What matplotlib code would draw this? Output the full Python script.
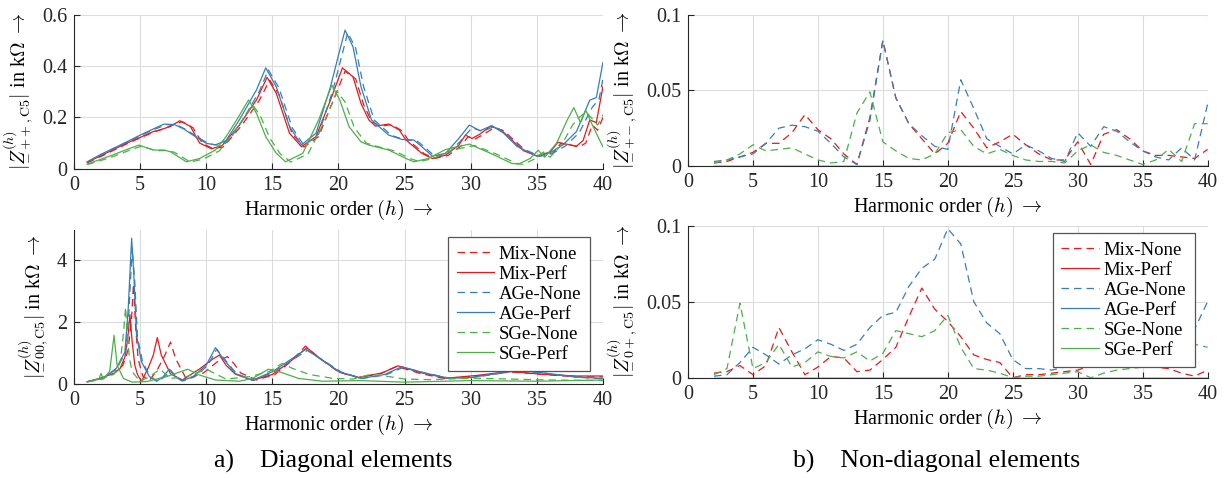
import numpy as np
import matplotlib
matplotlib.use("Agg")
import matplotlib.pyplot as plt

plt.rcParams['font.family'] = ['Liberation Serif', 'DejaVu Serif']
plt.rcParams['mathtext.fontset'] = 'cm'

labels = ['Mix-None', 'Mix-Perf', 'AGe-None', 'AGe-Perf', 'SGe-None', 'SGe-Perf']
colors = ['#e41a1c', '#e41a1c', '#377eb8', '#377eb8', '#4daf4a', '#4daf4a']
styles = ['--', '-', '--', '-', '--', '-']

# ---- diagonal ++ (top left)
h_mix_none_pp = [1, 2, 3, 4, 5, 6, 7, 7.6, 8.2, 9.0, 9.7, 10.5, 11.3, 12.7, 14, 14.8, 15.5, 16.5, 17.4, 18.5, 19.6, 20.5, 21.3, 21.9, 22.5, 23.1, 24.0, 24.8, 25.3, 26.5, 27.3, 28.3, 29.3, 29.8, 30.3, 30.9, 31.8, 32.5, 33.3, 34.2, 35.2, 36.2, 36.8, 37.5, 38.2, 38.7, 39.2, 39.6, 40]
z_mix_none_pp = [.023, .047, .072, .097, .12, .142, .16, .175, .183, .16, .1, .078, .085, .17, .265, .345, .29, .135, .085, .125, .265, .38, .35, .25, .185, .165, .172, .148, .11, .058, .04, .052, .09, .125, .115, .132, .16, .148, .11, .068, .05, .06, .098, .093, .085, .1, .17, .15, .2]
h_mix_perf_pp = [1, 2, 3, 4, 5, 6, 6.5, 7.3, 8.0, 8.8, 9.5, 10.4, 11.2, 12.5, 13.8, 14.6, 15.3, 16.3, 17.2, 18.3, 19.4, 20.3, 21.1, 21.7, 22.3, 22.8, 23.8, 24.6, 25.1, 26.3, 27.1, 28.1, 29.1, 29.6, 30.1, 30.7, 31.5, 32.3, 33.1, 34, 35, 36, 36.6, 37.3, 38, 38.5, 39, 39.5, 40]
z_mix_perf_pp = [.025, .05, .075, .1, .122, .145, .151, .165, .187, .165, .1, .078, .09, .17, .268, .356, .294, .138, .086, .125, .268, .393, .358, .255, .19, .166, .174, .151, .112, .06, .04, .053, .092, .131, .118, .135, .166, .151, .112, .07, .05, .065, .103, .095, .088, .11, .19, .18, .32]
h_age_none_pp = [1, 2, 3, 4, 5, 6, 7, 7.8, 8.5, 9.2, 10.2, 10.9, 11.7, 12.7, 14.0, 14.7, 15.5, 16.5, 17.4, 18.5, 19.6, 20.3, 20.7, 21.3, 21.9, 22.7, 24, 25, 25.9, 26.5, 27.3, 28.3, 29.3, 30.1, 30.9, 31.8, 32.7, 33.7, 35.2, 36.2, 37.2, 38.2, 39.2, 39.7, 40]
z_age_none_pp = [.025, .053, .078, .103, .128, .152, .172, .17, .152, .128, .097, .092, .108, .185, .3, .385, .315, .16, .09, .135, .31, .45, .53, .47, .32, .19, .13, .113, .11, .085, .048, .058, .112, .16, .145, .165, .135, .085, .048, .06, .09, .14, .24, .27, .35]
h_age_perf_pp = [1, 2, 3, 4, 5, 6, 6.8, 7.6, 8.3, 9.0, 10.0, 10.7, 11.5, 12.5, 13.8, 14.5, 15.3, 16.3, 17.2, 18.3, 19.4, 20.1, 20.5, 21.1, 21.7, 22.5, 23.8, 24.8, 25.7, 26.3, 27.1, 28.1, 29.1, 29.9, 30.7, 31.6, 32.5, 33.5, 35, 36, 37, 38, 39, 39.5, 40]
z_age_perf_pp = [.027, .055, .08, .105, .131, .155, .174, .172, .155, .131, .099, .093, .11, .19, .307, .393, .319, .164, .093, .138, .32, .462, .54, .475, .32, .19, .131, .114, .112, .086, .049, .06, .118, .17, .148, .168, .138, .087, .049, .062, .094, .145, .267, .277, .414]
h_sge_none_pp = [1, 2.4, 3.2, 4.2, 5.1, 6.2, 7.0, 7.6, 8.8, 9.8, 11, 11.8, 12.6, 13.5, 14.1, 14.8, 15.6, 16.4, 17.7, 18.9, 19.9, 20.5, 21.2, 22.1, 22.7, 24.2, 25.5, 26.1, 27.2, 28.5, 30.3, 31.9, 33.5, 34, 34.9, 35.5, 36, 36.9, 37.7, 38.2, 38.7, 39.1, 39.6, 40]
z_sge_none_pp = [.016, .038, .052, .072, .088, .07, .071, .064, .026, .038, .07, .12, .18, .25, .205, .12, .058, .026, .058, .18, .3, .26, .16, .1, .09, .07, .038, .028, .04, .072, .09, .058, .02, .017, .04, .065, .045, .095, .17, .2, .22, .2, .17, .21]
h_sge_perf_pp = [1, 2.2, 3, 4, 4.9, 6, 6.8, 7.3, 8.5, 9.5, 10.7, 11.5, 12.3, 13.2, 13.8, 14.5, 15.3, 16.0, 17.3, 18.5, 19.5, 20.1, 20.8, 21.7, 22.3, 23.8, 25.1, 25.7, 26.8, 28.1, 29.9, 31.5, 33.1, 33.6, 34.5, 35.1, 35.6, 36.5, 37.3, 37.8, 38.3, 38.7, 39.2, 40]
z_sge_perf_pp = [.018, .04, .055, .075, .092, .073, .073, .066, .027, .04, .073, .125, .19, .268, .216, .125, .06, .027, .06, .19, .326, .268, .164, .105, .092, .073, .04, .027, .04, .075, .096, .06, .021, .018, .04, .072, .045, .1, .19, .238, .18, .228, .17, .085]

# ---- diagonal 00 (bottom left)
h_mix_none_00 = [1, 2, 3, 3.7, 4.1, 4.35, 4.5, 4.65, 4.85, 5.2, 5.7, 6.3, 6.9, 7.3, 7.7, 8.5, 9.8, 10.8, 11.6, 12.1, 12.6, 13.8, 15.2, 16.4, 17.5, 18.5, 20, 21.5, 23.2, 24.4, 26.2, 28, 30.5, 33, 35.5, 38, 40]
z_mix_none_00 = [.06, .17, .32, .6, 1.1, 2.1, 3.24, 1.9, .8, .25, .1, .45, .95, 1.35, .8, .15, .35, .7, .88, .65, .35, .12, .3, .72, 1.22, .85, .38, .2, .33, .56, .33, .17, .25, .38, .3, .22, .22]
h_mix_perf_00 = [1, 2, 3, 3.5, 3.85, 4.05, 4.23, 4.4, 4.6, 4.8, 5.1, 5.6, 6.0, 6.3, 6.6, 7.3, 8.2, 9.5, 10.5, 11.0, 11.5, 12.2, 13.5, 15, 16.3, 17.6, 18.6, 20.1, 21.5, 23.3, 24.5, 26.3, 28.2, 30.5, 33, 35.5, 38, 40]
z_mix_perf_00 = [.065, .18, .33, .5, .87, 1.4, 2.24, 1.36, .6, .3, .07, .5, .93, 1.5, .93, .32, .12, .48, .8, .93, .6, .31, .11, .3, .7, 1.17, .82, .37, .2, .35, .58, .35, .18, .27, .4, .3, .25, .25]
h_age_none_00 = [1, 2.2, 3.2, 3.9, 4.15, 4.4, 4.6, 4.8, 5.2, 5.8, 6.35, 6.85, 7.3, 7.75, 8.25, 9.1, 10.1, 10.8, 11.3, 12.3, 13.6, 15.1, 16.4, 17.65, 18.7, 20.2, 21.8, 23.6, 24.9, 26.6, 28.4, 30.1, 31.6, 33.6, 35.6, 38, 40]
z_age_none_00 = [.06, .16, .48, 1.0, 2.3, 4.4, 3.3, 1.5, .68, .22, .08, .22, .44, .22, .09, .22, .58, 1.12, .84, .32, .11, .38, .74, 1.08, .8, .38, .17, .29, .53, .34, .18, .2, .29, .43, .34, .21, .16]
h_age_perf_00 = [1, 2.2, 3.2, 3.85, 4.1, 4.36, 4.53, 4.73, 5.1, 5.7, 6.25, 6.75, 7.2, 7.65, 8.15, 9.0, 10.0, 10.7, 11.2, 12.2, 13.5, 15, 16.3, 17.55, 18.56, 20.06, 21.7, 23.5, 24.8, 26.5, 28.3, 30, 31.5, 33.5, 35.5, 38, 40]
z_age_perf_00 = [.065, .17, .5, 1.03, 2.43, 4.72, 3.5, 1.57, .71, .23, .08, .23, .47, .23, .09, .23, .6, 1.17, .86, .33, .11, .39, .76, 1.12, .82, .39, .17, .3, .55, .35, .18, .2, .3, .45, .35, .22, .17]
h_sge_none_00 = [1, 2, 3, 3.5, 3.75, 3.9, 4.05, 4.2, 4.4, 5.0, 5.8, 6.5, 7.3, 8.5, 9.3, 10.0, 10.75, 11.5, 13.3, 14.75, 15.75, 16.5, 17.8, 19.6, 21.1, 22.4, 24, 25, 27, 30, 33, 36, 40]
z_sge_none_00 = [.06, .15, .3, .7, 1.67, 2.48, 1.5, .8, .39, .07, .25, .47, .17, .23, .35, .47, .31, .15, .23, .39, .66, .5, .3, .17, .15, .3, .22, .15, .13, .18, .15, .12, .1]
h_sge_perf_00 = [1, 1.9, 2.05, 2.2, 2.7, 3.03, 3.26, 3.74, 4.4, 5.5, 7.0, 8.6, 9.5, 10.7, 12.5, 13.5, 14.7, 15.5, 17, 18.8, 21.7, 25, 28, 30, 35, 40]
z_sge_perf_00 = [.065, .16, .33, .15, .4, 1.57, .6, .17, .05, .07, .23, .47, .28, .12, .08, .17, .47, .39, .17, .08, .1, .05, .08, .1, .08, .12]

# ---- non-diagonal, integer harmonics 2..40
h_int = list(range(2, 41))
z_mix_none_pm = [.002, .003, .006, .009, .015, .015, .022, .034, .024, .018, .008, .001, .032, .083, .045, .028, .018, .008, .015, .036, .025, .012, .016, .021, .014, .008, .004, .004, .016, .001, .021, .024, .018, .010, .007, .007, .006, .005, .011]
z_age_none_pm = [.003, .004, .006, .008, .015, .025, .027, .026, .023, .015, .006, .001, .03, .083, .045, .028, .02, .013, .011, .057, .038, .018, .013, .008, .014, .01, .005, .003, .022, .013, .026, .023, .016, .01, .006, .004, .012, .004, .041]
z_sge_none_pm = [.002, .004, .008, .014, .010, .011, .012, .008, .004, .002, .003, .035, .049, .016, .01, .005, .004, .008, .022, .024, .013, .008, .011, .007, .004, .003, .003, .002, .01, .014, .009, .007, .004, .001, .004, .011, .003, .028, .028]
z_mix_none_0p = [.003, .004, .008, .002, .008, .033, .017, .002, .007, .014, .013, .004, .005, .012, .02, .04, .059, .045, .037, .027, .015, .012, .01, .0, .002, .002, .003, .004, .005, .008, .007, .009, .01, .009, .007, .006, .003, .001, .005]
z_age_none_0p = [.001, .002, .01, .02, .015, .009, .015, .019, .025, .022, .018, .022, .033, .041, .043, .06, .072, .078, .098, .088, .05, .036, .029, .012, .006, .006, .005, .007, .012, .016, .014, .012, .011, .011, .01, .01, .02, .032, .05]
z_sge_none_0p = [.002, .006, .049, .006, .01, .022, .007, .01, .017, .014, .013, .017, .011, .016, .031, .029, .027, .031, .041, .02, .006, .005, .003, .0, .001, .001, .002, .003, .004, .0, .003, .005, .006, .007, .008, .01, .015, .022, .02]
z_perf_offdiag = [0.0] * 39

fig = plt.figure(figsize=(12.29, 4.78), dpi=100)
ax_pp = fig.add_axes([0.0602, 0.647, 0.4304, 0.3222])
ax_00 = fig.add_axes([0.0602, 0.1973, 0.4304, 0.3222])
ax_pm = fig.add_axes([0.5598, 0.6527, 0.4228, 0.3165])
ax_0p = fig.add_axes([0.5598, 0.2098, 0.4228, 0.318])

series = {
    ax_pp: [(h_mix_none_pp, z_mix_none_pp), (h_mix_perf_pp, z_mix_perf_pp), (h_age_none_pp, z_age_none_pp),
            (h_age_perf_pp, z_age_perf_pp), (h_sge_none_pp, z_sge_none_pp), (h_sge_perf_pp, z_sge_perf_pp)],
    ax_00: [(h_mix_none_00, z_mix_none_00), (h_mix_perf_00, z_mix_perf_00), (h_age_none_00, z_age_none_00),
            (h_age_perf_00, z_age_perf_00), (h_sge_none_00, z_sge_none_00), (h_sge_perf_00, z_sge_perf_00)],
    ax_pm: [(h_int, z_mix_none_pm), (h_int, z_perf_offdiag), (h_int, z_age_none_pm),
            (h_int, z_perf_offdiag), (h_int, z_sge_none_pm), (h_int, z_perf_offdiag)],
    ax_0p: [(h_int, z_mix_none_0p), (h_int, z_perf_offdiag), (h_int, z_age_none_0p),
            (h_int, z_perf_offdiag), (h_int, z_sge_none_0p), (h_int, z_perf_offdiag)],
}

ylabels = {
    ax_pp: r'$|\underset{-}{Z}^{(h)}_{++,\mathrm{C5}}|$ in k$\Omega$ $\rightarrow$',
    ax_00: r'$|\underset{-}{Z}^{(h)}_{00,\mathrm{C5}}|$ in k$\Omega$ $\rightarrow$',
    ax_pm: r'$|\underset{-}{Z}^{(h)}_{+-,\mathrm{C5}}|$ in k$\Omega$ $\rightarrow$',
    ax_0p: r'$|\underset{-}{Z}^{(h)}_{0+,\mathrm{C5}}|$ in k$\Omega$ $\rightarrow$',
}
ylims = {ax_pp: (0, 0.6), ax_00: (0, 5), ax_pm: (0, 0.1), ax_0p: (0, 0.1)}
yticks = {ax_pp: [0, 0.2, 0.4, 0.6], ax_00: [0, 2, 4], ax_pm: [0, 0.05, 0.1], ax_0p: [0, 0.05, 0.1]}

for ax, data in series.items():
    for (h, z), lab, c, ls in zip(data, labels, colors, styles):
        line, = ax.plot(h, z, color=c, lw=0.9, label=lab)
        if ls == '--':
            line.set_dashes([6, 4])
    ax.set_xlim(0, 40)
    ax.set_ylim(*ylims[ax])
    ax.set_xticks(range(0, 41, 5))
    ax.set_yticks(yticks[ax])
    ax.set_yticklabels([('%g' % t) for t in yticks[ax]])
    ax.grid(True, color='#dcdcdc', lw=0.8)
    ax.set_axisbelow(True)
    for s in ['top', 'right']:
        ax.spines[s].set_visible(False)
    for s in ['left', 'bottom']:
        ax.spines[s].set_color('#262626')
        ax.spines[s].set_linewidth(0.8)
    ax.tick_params(direction='in', length=4, labelsize=14.5, colors='#262626', pad=5)
    ax.set_xlabel(r'Harmonic order $(h)$ $\rightarrow$', fontsize=14.5, labelpad=2)
    ax.set_ylabel(ylabels[ax], fontsize=14.5, labelpad=4)

for ax in (ax_00, ax_0p):
    leg = ax.legend(loc='upper right', bbox_to_anchor=(0.975, 0.95), borderaxespad=0,
                    fontsize=13.5, handlelength=2.0, handletextpad=0.25, labelspacing=0.15,
                    borderpad=0.45, fancybox=False, framealpha=1, edgecolor='#555555')
    leg.get_frame().set_linewidth(0.9)

fig.text(0.271, 0.022, 'a)    Diagonal elements', ha='center', fontsize=18.5)
fig.text(0.762, 0.022, 'b)    Non-diagonal elements', ha='center', fontsize=18.5)

fig.savefig('out.png', dpi=100)
